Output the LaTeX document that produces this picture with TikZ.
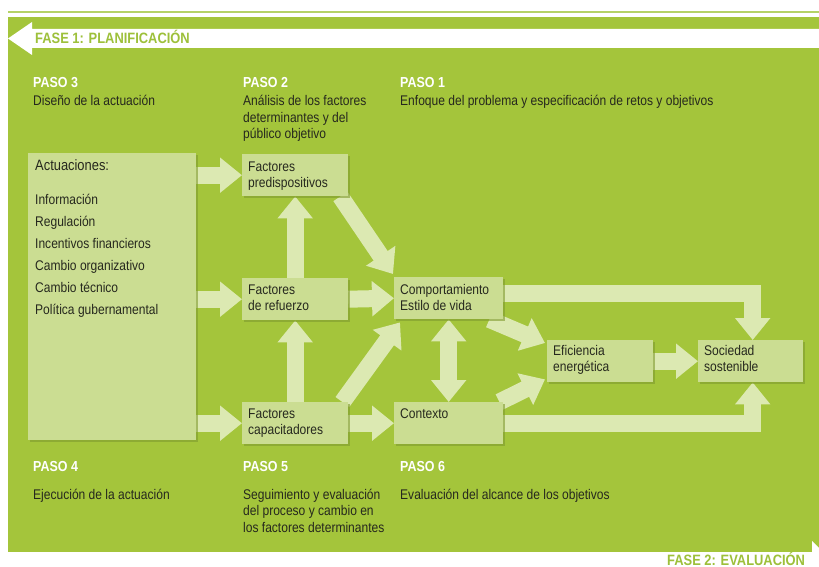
\documentclass[tikz,border=0pt]{standalone}
\usepackage{fontspec}
\setmainfont{Liberation Sans}[FakeStretch=0.86]
\usetikzlibrary{arrows.meta,shadows}
\definecolor{bgc}{HTML}{A4C53B}
\definecolor{linec}{HTML}{B5D267}
\definecolor{phasec}{HTML}{9DC03A}
\definecolor{boxc}{HTML}{CBDD92}
\definecolor{arrc}{HTML}{DCE9B2}
\definecolor{shadc}{HTML}{7F9A2E}
\definecolor{txtc}{HTML}{26281E}
\pgfdeclarelayer{bglayer}
\pgfdeclarelayer{arrowlayer}
\pgfsetlayers{bglayer,arrowlayer,main}
\newcommand\ml[1]{\begin{tabular}[t]{@{}l@{}}#1\end{tabular}}
\newcommand\bl[2]{\makebox[#1pt][l]{\ml{#2}}}
\tikzset{
  boxn/.style={anchor=north west, fill=boxc, inner xsep=6pt, inner ysep=0pt,
    text height=16pt, text depth=26pt, text=txtc,
    font=\fontsize{14}{16.5}\selectfont,
    drop shadow={shadow xshift=2pt, shadow yshift=-2pt, fill=shadc, opacity=0.6}},
  fat/.style={draw=arrc, line width=17pt, -{Triangle[length=22pt,width=34pt]}},
  dfat/.style={draw=arrc, line width=17pt, {Triangle[length=22pt,width=34pt]}-{Triangle[length=22pt,width=34pt]}},
  paso/.style={anchor=base west, inner sep=0pt, text=white, font=\fontsize{14.5}{16.5}\selectfont\bfseries},
  desc/.style={anchor=base west, inner sep=0pt, text=txtc, font=\fontsize{14}{16.5}\selectfont},
  fase/.style={anchor=base west, inner sep=0pt, text=phasec, font=\fontsize{15}{17}\selectfont\bfseries},
}
\begin{document}
\begin{tikzpicture}[x=1pt,y=-1pt]
\useasboundingbox (0,0) rectangle (819,567);
\clip (0,0) rectangle (819,567);
\begin{pgfonlayer}{bglayer}
  \fill[white] (0,0) rectangle (819,567);
  \draw[linec, line width=2pt] (8,12.5) -- (819,12.5);
  \fill[bgc] (8,17) rectangle (819,552);
  \fill[white] (819,29) -- (32,29) -- (32,22) -- (8,38.5) -- (32,55) -- (32,48) -- (819,48) -- cycle;
  \fill[white] (812,541) -- (828,557) -- (812,573) -- cycle;
\end{pgfonlayer}

\node[fase] (f1) at (35,44) {FASE 1: PLANIFICACIÓN};
\node[fase] (f2) at (667,565) {FASE 2: EVALUACIÓN};

\node[paso] (p3) at (33,88) {PASO 3};
\node[desc] (d3) at (33,106) {\ml{Diseño de la actuación}};
\node[paso] (p2) at (243,88) {PASO 2};
\node[desc] (d2) at (243,106) {\ml{Análisis de los factores\\determinantes y del\\público objetivo}};
\node[paso] (p1) at (400,88) {PASO 1};
\node[desc] (d1) at (400,106) {\ml{Enfoque del problema y especificación de retos y objetivos}};

\node[paso] (p4) at (33,471) {PASO 4};
\node[desc] (d4) at (33,499) {\ml{Ejecución de la actuación}};
\node[paso] (p5) at (243,471) {PASO 5};
\node[desc] (d5) at (243,499) {\ml{Seguimiento y evaluación\\del proceso y cambio en\\los factores determinantes}};
\node[paso] (p6) at (400,471) {PASO 6};
\node[desc] (d6) at (400,499) {\ml{Evaluación del alcance de los objetivos}};

\node[boxn, inner xsep=7pt, text height=17pt, text depth=270pt,
      font=\fontsize{14}{22}\selectfont] (act) at (28,153)
  {\bl{154}{{\fontsize{15}{22}\selectfont Actuaciones:}\\[12pt]Información\\Regulación\\Incentivos financieros\\Cambio organizativo\\Cambio técnico\\Política gubernamental}};

\node[boxn, text height=17pt, text depth=25pt] (pred) at (242,154) {\bl{94}{Factores\\predispositivos}};
\node[boxn] (ref) at (242,278) {\bl{94}{Factores\\de refuerzo}};
\node[boxn] (cap) at (242,402) {\bl{94}{Factores\\capacitadores}};
\node[boxn, text height=17pt, text depth=25pt] (comp) at (394,277) {\bl{97}{Comportamiento\\Estilo de vida}};
\node[boxn] (ctx) at (394,402) {\bl{97}{Contexto}};
\node[boxn, text height=15pt, text depth=27pt] (efi) at (547,340) {\bl{94}{Eficiencia\\energética}};
\node[boxn, text height=15pt, text depth=27pt] (soc) at (698,340) {\bl{93}{Sociedad\\sostenible}};

\begin{pgfonlayer}{arrowlayer}
  \draw[fat] (act.east |- pred.west) -- (pred.west);
  \draw[fat] (act.east |- ref.west) -- (ref.west);
  \draw[fat] (act.east |- cap.west) -- (cap.west);
  \draw[fat] (ref.north) -- (pred.south);
  \draw[fat] (cap.north) -- (ref.south);
  \draw[fat] ([xshift=-8pt]pred.south east) -- ([xshift=-1pt,yshift=3pt]comp.north west);
  \draw[fat] (ref.east) -- (comp.west);
  \draw[fat] ([xshift=-6pt]cap.north east) -- ([xshift=6pt,yshift=-3pt]comp.south west);
  \draw[fat] (cap.east) -- (ctx.west);
  \draw[dfat] (comp.south) -- (ctx.north);
  \draw[fat] ([xshift=-14pt]comp.south east) -- ([xshift=-2pt,yshift=-3pt]efi.north west);
  \draw[fat] ([xshift=-4pt]ctx.north east) -- ([xshift=-2pt,yshift=3pt]efi.south west);
  \draw[fat] (efi.east) -- (soc.west);
  \draw[fat] ([yshift=4.5pt]comp.east) -| ([xshift=2pt]soc.north);
  \draw[fat] (ctx.east) -| ([xshift=2pt]soc.south);
\end{pgfonlayer}
\end{tikzpicture}
\end{document}
